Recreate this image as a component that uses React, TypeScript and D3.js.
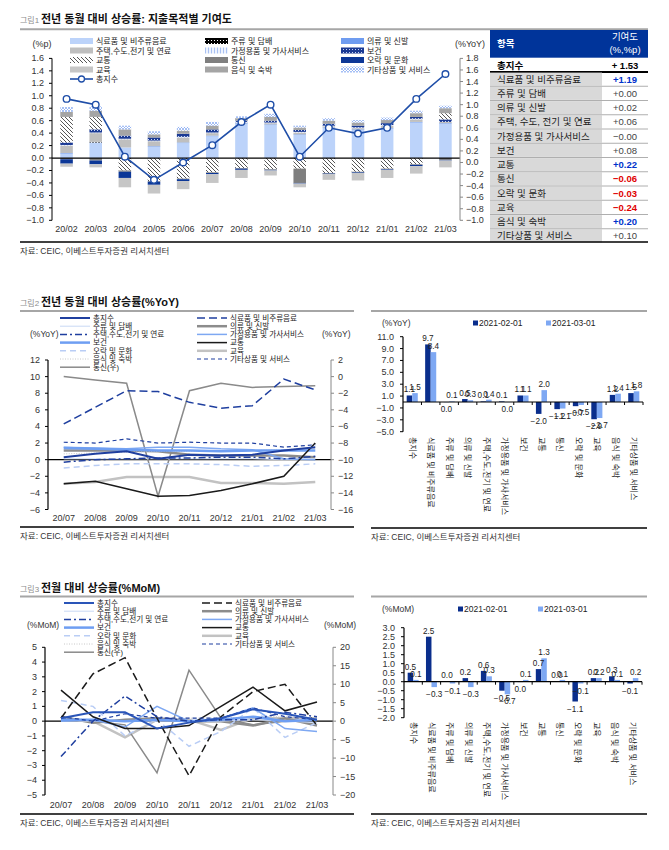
import React from 'react';
import * as d3 from 'd3';

const FN = '"Liberation Sans Narrow","Arial Narrow","Liberation Sans","Noto Sans CJK KR",sans-serif';
const SRC = '자료: CEIC, 이베스트투자증권 리서치센터';

// ---------- 그림1: contributions by category (%p)
const months1 = ['20/02', '20/03', '20/04', '20/05', '20/06', '20/07', '20/08', '20/09', '20/10', '20/11', '20/12', '21/01', '21/02', '21/03'];
const items = ['식료품 및 비주류음료', '주류 및 담배', '의류 및 신발', '주택,수도,전기 및 연료', '가정용품 및 가사서비스', '보건', '교통', '통신', '오락 및 문화', '교육', '음식 및 숙박', '기타상품 및 서비스'];
const cFood = [0.07, 0.25, 0.17, 0.18, 0.24, 0.35, 0.55, 0.53, 0.37, 0.48, 0.45, 0.47, 0.57, 0.55];
const cAlcohol = [0, 0.01, 0, 0, 0, 0, 0, 0, 0, 0, 0, 0, 0, 0];
const cClothing = [0.01, 0, 0, 0.01, 0.01, 0.01, 0.01, 0.01, 0.01, 0.01, 0.01, 0.01, 0.01, 0.01];
const cHousing = [0.12, 0.14, 0.13, 0.08, 0.08, 0.04, 0.01, 0.02, 0.03, 0.02, 0.02, 0.04, 0.04, 0.02];
const cHousehold = [0.01, 0.01, 0.01, 0.01, 0.01, 0.01, 0.01, 0.01, 0.01, 0.01, 0.01, 0.01, 0.01, 0];
const cHealth = [0.04, 0.05, 0.05, 0.05, 0.05, 0.05, 0.02, 0.03, 0.03, 0.03, 0.03, 0.03, 0.03, 0.04];
const cTransport = [0.41, 0.2, -0.2, -0.37, -0.33, -0.23, -0.16, -0.18, -0.17, -0.24, -0.22, -0.17, -0.1, 0.1];
const cTelecom = [-0.02, -0.04, -0.02, -0.01, -0.01, -0.01, -0.01, -0.01, -0.23, -0.01, -0.01, -0.01, -0.01, -0.03];
const cRecreation = [-0.07, -0.06, -0.1, -0.05, -0.03, -0.02, -0.02, -0.01, -0.01, -0.01, -0.01, -0.01, -0.02, -0.01];
const cEducation = [-0.05, -0.05, -0.15, -0.14, -0.13, -0.14, -0.13, -0.08, -0.06, -0.09, -0.12, -0.13, -0.12, -0.11];
const cRestaurant = [0.08, 0.1, 0.1, 0.05, 0.05, 0.06, 0.04, 0.06, 0.04, 0.05, 0.05, 0.05, 0.06, 0.08];
const cOther = [0.08, 0.07, 0.06, 0.05, 0.06, 0.06, 0.03, 0.05, 0.03, 0.04, 0.04, 0.04, 0.04, 0.04];
const contrib = [cFood, cAlcohol, cClothing, cHousing, cHousehold, cHealth, cTransport, cTelecom, cRecreation, cEducation, cRestaurant, cOther];
const total1 = [1.1, 1.0, 0.1, -0.3, 0.0, 0.3, 0.7, 1.0, 0.1, 0.6, 0.5, 0.6, 1.1, 1.53];
const ticks1L = [1.6, 1.4, 1.2, 1.0, 0.8, 0.6, 0.4, 0.2, 0, -0.2, -0.4, -0.6, -0.8, -1.0];
const ticks1R = [1.8, 1.6, 1.4, 1.2, 1.0, 0.8, 0.6, 0.4, 0.2, 0, -0.2, -0.4, -0.6, -0.8, -1.0];
const fills1 = ['#bcd3fa', 'url(#pAlc)', '#6f9cf0', '#bfbfbf', 'url(#pHouse)', 'url(#pHealth)', 'url(#pTrans)', '#7f7f7f', '#0c3797', '#c6c6c6', '#a5a5a5', 'url(#pOther)'];

// table (2021-03)
const tableItems = ['식료품 및 비주류음료', '주류 및 담배', '의류 및 신발', '주택, 수도, 전기 및 연료', '가정용품 및 가사서비스', '보건', '교통', '통신', '오락 및 문화', '교육', '음식 및 숙박', '기타상품 및 서비스'];
const tableValues = [1.19, 0.0, 0.02, 0.06, -0.004, 0.08, 0.22, -0.06, -0.03, -0.24, 0.2, 0.1];
const tableTotal = '+ 1.53';

// ---------- 그림2 / 그림3 lines
const months2 = ['20/07', '20/08', '20/09', '20/10', '20/11', '20/12', '21/01', '21/02', '21/03'];
const yoyTotal = [0.3, 0.7, 1.0, 0.1, 0.6, 0.5, 0.6, 1.1, 1.5];
const yoyFood = [4.3, 6.3, 8.3, 8.2, 6.9, 6.2, 6.5, 9.7, 8.4];
const yoyAlcohol = [0.1, 0.1, 0.1, 0.1, 0.1, 0.1, 0.1, 0.0, 0.1];
const yoyClothing = [1.1, 1.1, 1.1, 1.0, 0.6, 0.5, 0.5, 0.5, 0.3];
const yoyHousing = [-0.3, 0.0, 0.1, 0.2, 0.2, 0.3, 0.3, 0.1, 0.4];
const yoyHousehold = [1.5, 1.4, 1.3, 1.5, 1.5, 1.3, 1.2, 0.1, 0.0];
const yoyHealth = [1.4, 1.3, 1.2, 1.1, 1.1, 1.0, 1.1, 1.1, 1.1];
const yoyTransport = [-2.9, -2.6, -3.5, -4.4, -4.3, -3.7, -2.9, -2.0, 2.0];
const yoyTelecom = [0.0, -0.4, -0.8, -14.4, -1.7, -0.8, -1.3, -1.2, -1.1];
const yoyRecreation = [-1.0, -0.7, -0.5, -0.5, -0.5, -0.6, -0.8, -0.7, -0.5];
const yoyEducation = [-2.9, -2.7, -2.1, -2.1, -2.1, -2.8, -2.8, -2.9, -2.7];
const yoyRestaurant = [0.7, 0.8, 0.9, 1.0, 1.0, 1.0, 1.1, 1.2, 1.4];
const yoyOther = [2.1, 2.0, 2.5, 2.0, 2.1, 2.0, 2.0, 1.5, 1.8];

const momTotal = [0.2, 0.6, 0.6, -0.5, -0.1, 0.2, 0.8, 0.5, 0.1];
const momFood = [0.2, 3.2, 4.3, 0.2, -3.7, 0.3, 2.0, 2.5, -0.3];
const momAlcohol = [0.0, 0.0, 0.0, 0.0, 0.0, 0.0, 0.1, 0.0, -0.1];
const momClothing = [0.3, -0.1, 0.1, 0.2, 0.0, 0.0, -0.3, 0.2, -0.3];
const momHousing = [-2.4, 0.0, 1.7, 0.3, 0.0, 0.1, 0.1, 0.6, 0.3];
const momHousehold = [0.0, 0.1, -0.4, 1.0, 0.0, 0.2, 0.9, -0.5, -0.7];
const momHealth = [0.1, 0.1, 0.0, 0.1, 0.0, 0.1, 0.3, 0.0, 0.1];
const momTransport = [2.1, 0.3, -0.5, -0.5, -0.3, 1.0, 2.3, 0.7, 1.3];
const momTelecom = [1.0, 0.0, -1.0, -14.0, 13.8, 0.8, -1.0, 0.0, 0.1];
const momRecreation = [1.4, 1.0, -1.0, 0.1, -1.7, -0.7, 0.9, -1.1, -0.1];
const momEducation = [0.2, 0.0, -1.1, 0.1, 0.1, -0.6, 0.2, 0.2, 0.2];
const momRestaurant = [0.2, 0.1, 0.0, 0.1, 0.2, 0.2, 0.3, 0.3, 0.1];
const momOther = [0.3, 0.0, 0.5, 0.2, 0.2, 0.2, 0.9, 0.3, 0.1];

const legA = ['총지수', '주류 및 담배', '주택,수도,전기 및 연료', '보건', '오락 및 문화', '음식 및 숙박', '통신(우)'];
const legB = ['식료품 및 비주류음료', '의류 및 신발', '가정용품 및 가사서비스', '교통', '교육', '기타상품 및 서비스'];
const ticks2L = [12, 10, 8, 6, 4, 2, 0, -2, -4, -6];
const ticks2R = [2, 0, -2, -4, -6, -8, -10, -12, -14, -16];
const ticks3L = [5, 4, 3, 2, 1, 0, -1, -2, -3, -4, -5];
const ticks3R = [20, 15, 10, 5, 0, -5, -10, -15, -20];

// ---------- bar charts
const barCats = ['총지수', '식료품 및 비주류음료', '주류 및 담배', '의류 및 신발', '주택,수도,전기 및 연료', '가정용품 및 가사서비스', '보건', '교통', '통신', '오락 및 문화', '교육', '음식 및 숙박', '기타상품 및 서비스'];
const barKeys = ['2021-02-01', '2021-03-01'];
const yoyFeb = [1.1, 9.7, -0.02, 0.5, 0.1, 0.1, 1.1, -2.0, -1.2, -0.7, -2.9, 1.2, 1.5];
const yoyMar = [1.5, 8.4, 0.1, 0.3, 0.4, -0.02, 1.1, 2.0, -1.1, -0.5, -2.7, 1.4, 1.8];
const momFeb = [0.5, 2.5, 0.02, 0.2, 0.6, -0.5, -0.02, 0.7, 0.03, -1.1, 0.2, 0.3, -0.1];
const momMar = [0.1, -0.3, -0.1, -0.3, 0.3, -0.7, 0.1, 1.3, 0.1, -0.1, 0.2, 0.1, 0.2];
const ticksB2 = [11, 9, 7, 5, 3, 1, -1, -3, -5];
const ticksB3 = [3, 2.5, 2, 1.5, 1, 0.5, 0, -0.5, -1, -1.5, -2];

type LS = { color: string; width: number; dash?: string };
const baseStyles: Record<string, LS> = {
  '총지수': { color: '#1f3f9f', width: 2 },
  '주류 및 담배': { color: '#c9d8f4', width: 1 },
  '주택,수도,전기 및 연료': { color: '#1f3f9f', width: 1.5, dash: '7,3,2,3' },
  '보건': { color: '#6e9ef2', width: 2.5 },
  '오락 및 문화': { color: '#b9cdf5', width: 1.5, dash: '6,4' },
  '음식 및 숙박': { color: '#c8c8c8', width: 1, dash: '1,1.5' },
  '통신(우)': { color: '#8a8a8a', width: 1.5 },
  '식료품 및 비주류음료': { color: '#1f3f9f', width: 1.5, dash: '8,4' },
  '의류 및 신발': { color: '#8c8c8c', width: 2.5 },
  '가정용품 및 가사서비스': { color: '#7ea8f2', width: 1.5 },
  '교통': { color: '#1a1a1a', width: 1.5 },
  '교육': { color: '#c2c2c2', width: 2.5 },
  '기타상품 및 서비스': { color: '#1f3f9f', width: 1.2, dash: '4,3' },
};
const styles3: Record<string, LS> = {
  ...baseStyles,
  '총지수': { color: '#2a55b8', width: 2 },
  '식료품 및 비주류음료': { color: '#1a1a1a', width: 1.5, dash: '8,4' },
};

const f1 = d3.format('.1f');
const lab = (v: number) => (Math.abs(v) < 0.05 ? '0.0' : f1(v));

function Header({ x, y, num, title, x2, lineY }: { x: number; y: number; num: string; title: string; x2: number; lineY: number }) {
  return (
    <g>
      <text x={x} y={y} fontSize={8} fill="#8c8c8c" fontFamily={FN}>{num}</text>
      <text x={x + 21} y={y} fontSize={11} fontWeight="bold" fill="#111" fontFamily={FN}>{title}</text>
      <line x1={x} x2={x2} y1={lineY} y2={lineY} stroke="#a6a6a6" strokeWidth={2} />
    </g>
  );
}

function Source({ x, y, x2 }: { x: number; y: number; x2: number }) {
  return (
    <g>
      <line x1={x} x2={x2} y1={y} y2={y} stroke="#000" strokeWidth={1.3} />
      <text x={x} y={y + 12} fontSize={8.5} fill="#333" fontFamily={FN}>{SRC}</text>
    </g>
  );
}

function Chart1() {
  const x = d3.scaleBand<string>().domain(months1).range([52, 460]).paddingInner(0.57).paddingOuter(0.285);
  const yL = d3.scaleLinear().domain([-1, 1.6]).range([220.3, 58.4]);
  const yR = d3.scaleLinear().domain([-1, 1.8]).range([220.3, 58.4]);
  const rows = months1.map((m, i) => {
    const r: any = { m };
    items.forEach((k, j) => (r[k] = contrib[j][i]));
    return r;
  });
  const stacked = d3.stack<any>().keys(items).offset(d3.stackOffsetDiverging)(rows);
  const cx = (m: string) => (x(m) as number) + x.bandwidth() / 2;
  const line = d3.line<number>().x((_, i) => cx(months1[i])).y((v) => yR(v));
  const legX = [70, 205, 341];
  const legY = [41, 50.5, 60, 69.5, 79];
  return (
    <g fontFamily={FN}>
      {stacked.map((s, j) => (
        <g key={items[j]} fill={fills1[j]}>
          {s.map((d, i) => (
            <rect key={i} x={x(months1[i])} width={x.bandwidth()} y={yL(Math.max(d[0], d[1]))} height={Math.abs(yL(d[0]) - yL(d[1]))} />
          ))}
        </g>
      ))}
      <line x1={52} x2={460} y1={yL(0)} y2={yL(0)} stroke="#000" strokeWidth={1.2} />
      <line x1={52} x2={52} y1={yL(1.6)} y2={yL(-1)} stroke="#000" />
      {ticks1L.map((t) => (
        <g key={t}>
          <line x1={49} x2={52} y1={yL(t)} y2={yL(t)} stroke="#000" />
          <text x={44} y={yL(t) + 3} fontSize={9} textAnchor="end" fill="#333">{f1(t)}</text>
        </g>
      ))}
      <line x1={460} x2={460} y1={yR(1.8)} y2={yR(-1)} stroke="#888" />
      {ticks1R.map((t) => (
        <g key={t}>
          <line x1={460} x2={463} y1={yR(t)} y2={yR(t)} stroke="#888" />
          <text x={466} y={yR(t) + 3} fontSize={9} fill="#333">{f1(t)}</text>
        </g>
      ))}
      {months1.map((m) => (
        <text key={m} x={cx(m)} y={232} fontSize={9} textAnchor="middle" fill="#333">{m}</text>
      ))}
      <text x={42} y={47} fontSize={9} textAnchor="middle" fill="#333">(%p)</text>
      <text x={470} y={47} fontSize={9} textAnchor="middle" fill="#333">(%YoY)</text>
      <path d={line(total1) || ''} fill="none" stroke="#1f4ea8" strokeWidth={1.6} />
      {total1.map((v, i) => (
        <circle key={i} cx={cx(months1[i])} cy={yR(v)} r={3.3} fill="#fff" stroke="#1f4ea8" strokeWidth={1.4} />
      ))}
      {items.map((k, i) => {
        const lx = legX[i % 3];
        const ly = legY[Math.floor(i / 3)];
        return (
          <g key={k}>
            <rect x={lx} y={ly - 3} width={23} height={6} fill={fills1[i]} />
            <text x={lx + 26} y={ly + 3} fontSize={8} fill="#222">{k}</text>
          </g>
        );
      })}
      <line x1={legX[0]} x2={legX[0] + 23} y1={legY[4]} y2={legY[4]} stroke="#1f4ea8" strokeWidth={1.6} />
      <circle cx={legX[0] + 11.5} cy={legY[4]} r={3} fill="#fff" stroke="#1f4ea8" strokeWidth={1.3} />
      <text x={legX[0] + 26} y={legY[4] + 3} fontSize={8} fill="#222">총지수</text>
    </g>
  );
}

function Table1() {
  const x0 = 490, xm = 602, x2 = 648;
  const ry = d3.scaleBand<string>().domain(tableItems).range([72, 243]);
  return (
    <g fontFamily={FN}>
      <rect x={x0} y={30} width={x2 - x0} height={27.7} fill="#00349a" />
      <text x={497} y={47} fontSize={9.5} fontWeight="bold" fill="#fff">항목</text>
      <text x={625} y={40} fontSize={9.5} textAnchor="middle" fill="#fff">기여도</text>
      <text x={625} y={53} fontSize={9.5} textAnchor="middle" fill="#fff">(%,%p)</text>
      <text x={497} y={68.5} fontSize={9.5} fontWeight="bold" fill="#000">총지수</text>
      <text x={625} y={68.5} fontSize={9.5} fontWeight="bold" textAnchor="middle" fill="#000">{tableTotal}</text>
      <line x1={x0} x2={x2} y1={72} y2={72} stroke="#000" strokeWidth={2} />
      {tableItems.map((k, i) => {
        const v = tableValues[i];
        const y = ry(k) as number;
        const col = v >= 0.15 ? '#0033cc' : v <= -0.01 ? '#e00000' : '#444';
        const txt = (v < 0 ? '−' : '+') + Math.abs(v).toFixed(2);
        return (
          <g key={k}>
            <rect x={x0} y={y + 0.6} width={xm - x0} height={ry.bandwidth() - 1.2} fill="#d9d9d9" />
            {i > 0 && <line x1={x0} x2={x2} y1={y} y2={y} stroke="#9a9a9a" strokeWidth={0.8} />}
            <text x={497} y={y + 10.5} fontSize={9.5} fill="#222">{k}</text>
            <text x={625} y={y + 10.5} fontSize={9.5} textAnchor="middle" fill={col} fontWeight={col === '#444' ? 'normal' : 'bold'}>{txt}</text>
          </g>
        );
      })}
    </g>
  );
}

type Ser = { name: string; values: number[]; right?: boolean };

function LineChart(p: {
  xr: [number, number]; yr: [number, number]; domL: [number, number]; domR: [number, number];
  ticksL: number[]; ticksR: number[]; series: Ser[]; styles: Record<string, LS>;
  legX: [number, number]; legY0: number; unit: string; unitY: number; xLabY: number;
}) {
  const x = d3.scaleBand<string>().domain(months2).range(p.xr);
  const cx = (i: number) => (x(months2[i]) as number) + x.bandwidth() / 2;
  const yL = d3.scaleLinear().domain(p.domL).range(p.yr);
  const yR = d3.scaleLinear().domain(p.domR).range(p.yr);
  const legRow = (i: number) => p.legY0 + i * 8.2;
  return (
    <g fontFamily={FN}>
      <line x1={p.xr[0]} x2={p.xr[1]} y1={yL(0)} y2={yL(0)} stroke="#000" strokeWidth={1.2} />
      <line x1={p.xr[0]} x2={p.xr[0]} y1={p.yr[0]} y2={p.yr[1]} stroke="#000" strokeWidth={1.2} />
      {p.ticksL.map((t) => (
        <g key={t}>
          <line x1={p.xr[0] - 3} x2={p.xr[0]} y1={yL(t)} y2={yL(t)} stroke="#000" />
          <text x={p.xr[0] - 8} y={yL(t) + 3} fontSize={9} textAnchor="end" fill="#333">{d3.format('d')(t)}</text>
        </g>
      ))}
      <line x1={p.xr[1]} x2={p.xr[1]} y1={p.yr[0]} y2={p.yr[1]} stroke="#888" />
      {p.ticksR.map((t) => (
        <g key={t}>
          <line x1={p.xr[1]} x2={p.xr[1] + 3} y1={yR(t)} y2={yR(t)} stroke="#888" />
          <text x={p.xr[1] + 7} y={yR(t) + 3} fontSize={9} fill="#333">{d3.format('d')(t)}</text>
        </g>
      ))}
      {months2.map((m, i) => (
        <text key={m} x={cx(i)} y={p.xLabY} fontSize={9} textAnchor="middle" fill="#333">{m}</text>
      ))}
      {p.series.map((s) => {
        const st = p.styles[s.name];
        const sc = s.right ? yR : yL;
        const ln = d3.line<number>().x((_, i) => cx(i)).y((v) => sc(v));
        return <path key={s.name} d={ln(s.values) || ''} fill="none" stroke={st.color} strokeWidth={st.width} strokeDasharray={st.dash} />;
      })}
      {[legA, legB].map((col, c) => col.map((n, i) => {
        const st = p.styles[n];
        return (
          <g key={n}>
            <line x1={p.legX[c]} x2={p.legX[c] + 30} y1={legRow(i)} y2={legRow(i)} stroke={st.color} strokeWidth={st.width} strokeDasharray={st.dash} />
            <text x={p.legX[c] + 33} y={legRow(i) + 2.8} fontSize={7.6} fill="#222">{n}</text>
          </g>
        );
      }))}
      <text x={p.xr[0] - 18} y={p.unitY} fontSize={8.5} fill="#333">{p.unit}</text>
      <text x={p.xr[1] - 9} y={p.unitY} fontSize={8.5} fill="#333">{p.unit}</text>
    </g>
  );
}

function BarChart(p: {
  xr: [number, number]; yr: [number, number]; dom: [number, number]; ticks: number[];
  feb: number[]; mar: number[]; unit: string; legY: number; legXs: [number, number]; catY: number;
}) {
  const x = d3.scaleBand<string>().domain(barCats).range(p.xr).paddingInner(0.4).paddingOuter(0.2);
  const xs = d3.scaleBand<string>().domain(barKeys).range([0, x.bandwidth()]);
  const y = d3.scaleLinear().domain(p.dom).range(p.yr);
  const cols = ['#0a2e8c', '#7ea8f3'];
  const step = x.step();
  return (
    <g fontFamily={FN}>
      {[p.feb, p.mar].map((vals, k) => vals.map((v, i) => {
        const bx = (x(barCats[i]) as number) + (xs(barKeys[k]) as number);
        return (
          <rect key={k + '-' + i} x={bx} width={xs.bandwidth()} y={y(Math.max(0, v))} height={Math.abs(y(v) - y(0))} fill={cols[k]} />
        );
      }))}
      {[p.feb, p.mar].map((vals, k) => vals.map((v, i) => {
        const cxl = (x(barCats[i]) as number) + (xs(barKeys[k]) as number) + xs.bandwidth() / 2;
        return (
          <text key={'t' + k + '-' + i} x={cxl} y={v > 0 ? y(v) - 3 : y(v) + 10} fontSize={8.2} textAnchor="middle" fill="#222">{lab(v)}</text>
        );
      }))}
      <line x1={p.xr[0]} x2={p.xr[1]} y1={y(0)} y2={y(0)} stroke="#000" strokeWidth={1.2} />
      {barCats.map((c, i) => (
        <line key={c} x1={p.xr[0] + step * (i + 1)} x2={p.xr[0] + step * (i + 1)} y1={y(0)} y2={y(0) + 3} stroke="#000" />
      ))}
      <line x1={p.xr[0]} x2={p.xr[0]} y1={p.yr[0]} y2={p.yr[1]} stroke="#000" strokeWidth={1.2} />
      {p.ticks.map((t) => (
        <g key={t}>
          <line x1={p.xr[0] - 3} x2={p.xr[0]} y1={y(t)} y2={y(t)} stroke="#000" />
          <text x={p.xr[0] - 9} y={y(t) + 3} fontSize={9} textAnchor="end" fill="#333">{f1(t)}</text>
        </g>
      ))}
      {barCats.map((c) => (
        <text key={c} transform={`translate(${(x(c) as number) + x.bandwidth() / 2},${p.catY}) rotate(90)`} fontSize={8} dominantBaseline="central" fill="#222">{c}</text>
      ))}
      <text x={382} y={p.legY + 3} fontSize={8.5} fill="#333">{p.unit}</text>
      {barKeys.map((k, i) => (
        <g key={k}>
          <rect x={p.legXs[i]} y={p.legY - 2.5} width={5} height={5} fill={cols[i]} />
          <text x={p.legXs[i] + 6} y={p.legY + 3} fontSize={8.5} fill="#222">{k}</text>
        </g>
      ))}
    </g>
  );
}

const series2: Ser[] = [
  { name: '교육', values: yoyEducation },
  { name: '의류 및 신발', values: yoyClothing },
  { name: '통신(우)', values: yoyTelecom, right: true },
  { name: '음식 및 숙박', values: yoyRestaurant },
  { name: '주류 및 담배', values: yoyAlcohol },
  { name: '오락 및 문화', values: yoyRecreation },
  { name: '가정용품 및 가사서비스', values: yoyHousehold },
  { name: '보건', values: yoyHealth },
  { name: '교통', values: yoyTransport },
  { name: '기타상품 및 서비스', values: yoyOther },
  { name: '식료품 및 비주류음료', values: yoyFood },
  { name: '주택,수도,전기 및 연료', values: yoyHousing },
  { name: '총지수', values: yoyTotal },
];
const series3: Ser[] = [
  { name: '교육', values: momEducation },
  { name: '의류 및 신발', values: momClothing },
  { name: '통신(우)', values: momTelecom, right: true },
  { name: '음식 및 숙박', values: momRestaurant },
  { name: '주류 및 담배', values: momAlcohol },
  { name: '오락 및 문화', values: momRecreation },
  { name: '가정용품 및 가사서비스', values: momHousehold },
  { name: '보건', values: momHealth },
  { name: '교통', values: momTransport },
  { name: '기타상품 및 서비스', values: momOther },
  { name: '식료품 및 비주류음료', values: momFood },
  { name: '주택,수도,전기 및 연료', values: momHousing },
  { name: '총지수', values: momTotal },
];

export default function App() {
  return (
    <svg width={669} height={850} style={{ position: 'absolute', left: 0, top: 0, background: '#fff' }}>
      <defs>
        <pattern id="pAlc" width={3} height={3} patternUnits="userSpaceOnUse">
          <rect width={3} height={3} fill="#000" />
          <rect x={1} y={1} width={1} height={1} fill="#fff" />
        </pattern>
        <pattern id="pHouse" width={3} height={3} patternUnits="userSpaceOnUse">
          <rect width={3} height={3} fill="#eef3fd" />
          <rect x={1} y={0} width={1} height={3} fill="#a9c1f2" />
        </pattern>
        <pattern id="pHealth" width={3} height={3} patternUnits="userSpaceOnUse">
          <rect width={3} height={3} fill="#1b3a94" />
          <rect x={1} y={1} width={1} height={1} fill="#c9d6f5" />
        </pattern>
        <pattern id="pTrans" width={4} height={4} patternUnits="userSpaceOnUse">
          <rect width={4} height={4} fill="#fff" />
          <path d="M0,0L4,4M-1,3L1,5M3,-1L5,1" stroke="#555" strokeWidth={1} />
        </pattern>
        <pattern id="pOther" width={3} height={3} patternUnits="userSpaceOnUse">
          <rect width={3} height={3} fill="#fff" />
          <path d="M0,0L3,3M3,0L0,3" stroke="#8fb0f2" strokeWidth={0.8} />
        </pattern>
      </defs>
      <Header x={20} y={23} num="그림1" title="전년 동월 대비 상승률: 지출목적별 기여도" x2={648} lineY={29.3} />
      <Chart1 />
      <Table1 />
      <Source x={20} y={242} x2={648} />

      <Header x={20} y={306} num="그림2" title="전년 동월 대비 상승률(%YoY)" x2={354} lineY={311} />
      <line x1={371} x2={647} y1={311} y2={311} stroke="#a6a6a6" strokeWidth={2} />
      <LineChart xr={[48, 331]} yr={[509.5, 360]} domL={[-6, 12]} domR={[-16, 2]} ticksL={ticks2L} ticksR={ticks2R}
        series={series2} styles={baseStyles} legX={[60, 197]} legY0={318} unit="(%YoY)" unitY={337} xLabY={521} />
      <Source x={20} y={527} x2={354} />
      <BarChart xr={[403, 643]} yr={[431.7, 336.7]} dom={[-5, 11]} ticks={ticksB2} feb={yoyFeb} mar={yoyMar}
        unit="(%YoY)" legY={323} legXs={[473, 546]} catY={437} />
      <Source x={371} y={528} x2={647} />

      <Header x={20} y={592} num="그림3" title="전월 대비 상승률(%MoM)" x2={354} lineY={596.5} />
      <line x1={371} x2={647} y1={596.5} y2={596.5} stroke="#a6a6a6" strokeWidth={2} />
      <LineChart xr={[45, 333]} yr={[795, 647.3]} domL={[-5, 5]} domR={[-20, 20]} ticksL={ticks3L} ticksR={ticks3R}
        series={series3} styles={styles3} legX={[64, 202]} legY0={603} unit="(%MoM)" unitY={628} xLabY={808} />
      <Source x={20} y={814} x2={354} />
      <BarChart xr={[404, 642]} yr={[717.7, 627.7]} dom={[-2, 3]} ticks={ticksB3} feb={momFeb} mar={momMar}
        unit="(%MoM)" legY={609} legXs={[458, 538]} catY={722} />
      <Source x={371} y={814} x2={647} />
    </svg>
  );
}
